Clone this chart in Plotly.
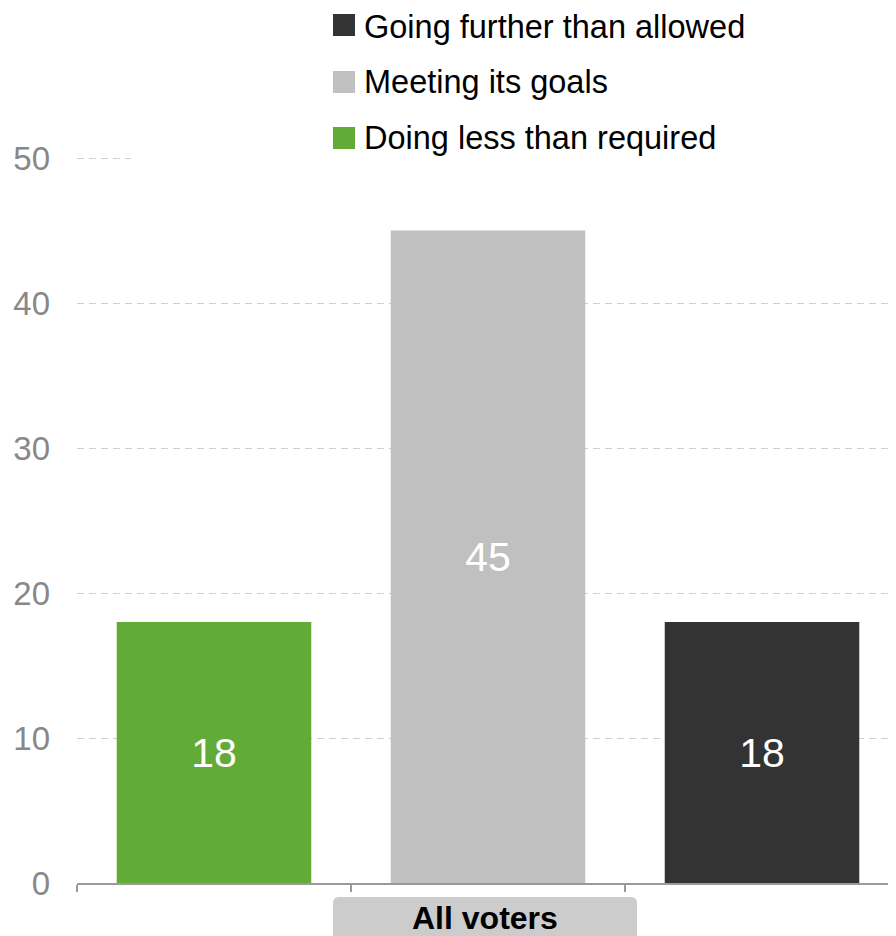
import plotly.graph_objects as go

# ---- data ----
series_names = ["Doing less than required", "Meeting its goals", "Going further than allowed"]
series_values = [18, 45, 18]
series_colors = ["#63ab37", "#c0c0c0", "#333333"]
series_x = [0, 1, 2]
group_label = "All voters"
y_ticks = [0, 10, 20, 30, 40, 50]
x_boundaries = [-0.5, 0.5, 1.5]

# ---- layout geometry (page body adds an 8px offset) ----
OFF = 8
W, H = 896 - OFF, 936 - OFF
L, R, T, B = 77 - OFF, 0, 129 - OFF, 53
PW, PH = W - L - R, H - T - B
FONT = "Liberation Sans, Arial, sans-serif"
X_RANGE = [-0.5, 2.489]


def px_x(px):
    return (px - OFF - L) / PW


def px_y(py):
    return (H - B - (py - OFF)) / PH


def px_to_data_x(px):
    return X_RANGE[0] + px_x(px) * (X_RANGE[1] - X_RANGE[0])


fig = go.Figure()
for name, val, col, xv in zip(series_names, series_values, series_colors, series_x):
    fig.add_trace(go.Bar(
        x=[xv], y=[val], name=name,
        marker=dict(color=col, line=dict(width=0)),
        width=0.71,
        text=[val], texttemplate="%{text}",
        textposition="inside", insidetextanchor="middle", textangle=0,
        textfont=dict(family=FONT, size=41, color="white"),
        showlegend=False,
    ))

shapes = []
annotations = []

# legend background box (hides the top grid line behind the legend, as in the original)
shapes.append(dict(type="rect", xref="x", yref="y",
                   x0=px_to_data_x(131), x1=X_RANGE[1], y0=48.5, y1=52,
                   fillcolor="white", line=dict(width=0), layer="between"))

# manual legend (reversed order), big square swatches
legend_rows = [25, 82, 138]
for (name, col), cy in zip(list(zip(series_names, series_colors))[::-1], legend_rows):
    shapes.append(dict(type="rect", xref="paper", yref="paper",
                       x0=px_x(333), x1=px_x(355), y0=px_y(cy + 11), y1=px_y(cy - 11),
                       fillcolor=col, line=dict(width=0), layer="above"))
    annotations.append(dict(text=name, xref="paper", yref="paper",
                            x=px_x(362), y=px_y(max(cy, 27)), xanchor="left", yanchor="middle",
                            showarrow=False, font=dict(family=FONT, size=32.5, color="#000000")))

# category label box with rounded top corners
shapes.append(dict(type="path", xref="x", yref="paper", xsizemode="pixel", ysizemode="pixel",
                   xanchor=1, yanchor=0,
                   path="M -155,-70 L -155,-20 Q -155,-14 -149,-14 L 143,-14 Q 149,-14 149,-20 L 149,-70 Z",
                   fillcolor="#cccccc", line=dict(width=0), layer="above"))
annotations.append(dict(text="<b>" + group_label + "</b>", xref="x", yref="paper",
                        x=1, y=0, xanchor="center", yanchor="middle", yshift=-35, xshift=-3,
                        showarrow=False, font=dict(family=FONT, size=32, color="#000000")))

fig.update_layout(
    width=W, height=H,
    margin=dict(l=L, r=R, t=T, b=B, pad=0),
    paper_bgcolor="white", plot_bgcolor="white",
    barmode="overlay",
    showlegend=False,
    shapes=shapes, annotations=annotations,
    xaxis=dict(range=X_RANGE, tickvals=x_boundaries, ticktext=["", "", ""],
               showticklabels=False, ticks="outside", ticklen=7, tickwidth=1.5,
               tickcolor="#9a9a9a", showline=True, linecolor="#9a9a9a", linewidth=2,
               showgrid=False, zeroline=False, fixedrange=True),
    yaxis=dict(range=[0, 52], tickvals=y_ticks, showgrid=True, gridcolor="#cfcfcf",
               griddash="7px,5px", gridwidth=1, zeroline=False, showline=False,
               ticks="", ticklabelstandoff=26,
               tickfont=dict(family=FONT, size=33, color="#888888"), fixedrange=True),
)

fig.write_html("out.html")
